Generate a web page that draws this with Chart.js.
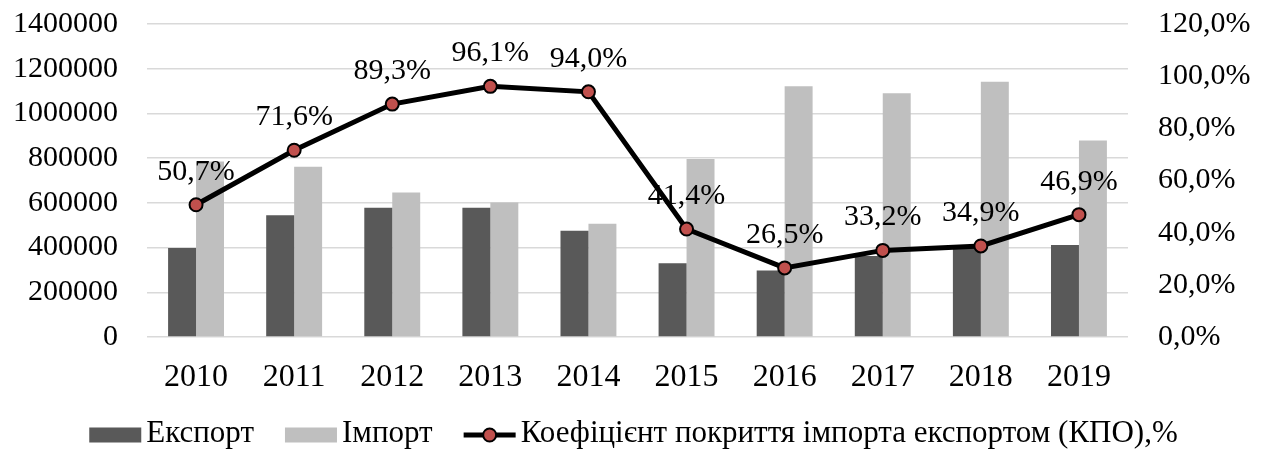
<!DOCTYPE html>
<html>
<head>
<meta charset="utf-8">
<script src="https://cdn.jsdelivr.net/npm/chart.js@4/dist/chart.umd.min.js"></script>
<style>
    body { margin: 0; background: #fff; }
</style>
</head>
<body>
<canvas id="kpo-chart" width="1267" height="452"></canvas>
<script>
var roky = ['2010', '2011', '2012', '2013', '2014', '2015', '2016', '2017', '2018', '2019'];
var eksport = [398000, 545000, 578000, 578000, 475000, 330000, 297000, 362000, 398000, 412000];
var import_ = [785000, 762000, 646000, 602000, 506000, 796000, 1122000, 1090000, 1142000, 879000];
var kpo = [50.7, 71.6, 89.3, 96.1, 94.0, 41.4, 26.5, 33.2, 34.9, 46.9];

var shryft = '"Liberation Serif", "Times New Roman", serif';

function vidsotok(v) {
    return v.toFixed(1).replace('.', ',') + '%';
}

// підписи над точками лінії
var pidpysy = {
    id: 'pidpysy',
    afterDatasetsDraw: function(chart) {
        var ctx = chart.ctx;
        var meta = chart.getDatasetMeta(2);
        ctx.save();
        ctx.font = '30px ' + shryft;
        ctx.fillStyle = '#000';
        ctx.textAlign = 'center';
        ctx.textBaseline = 'alphabetic';
        meta.data.forEach(function(pt, i) {
            ctx.fillText(vidsotok(kpo[i]), pt.x, pt.y - 25);
        });
        ctx.restore();
    }
};

// легенда внизу
var legenda = {
    id: 'legenda',
    afterDraw: function(chart) {
        var ctx = chart.ctx;
        var items = [
            { type: 'box', color: '#595959', text: 'Експорт' },
            { type: 'box', color: '#BFBFBF', text: 'Імпорт' },
            { type: 'line', text: 'Коефіцієнт покриття імпорта експортом (КПО),%' }
        ];
        var markW = 52, gap = 5, itemGap = 31;
        ctx.save();
        ctx.font = '31px ' + shryft;
        var total = 0;
        items.forEach(function(it, i) {
            it.w = ctx.measureText(it.text).width;
            total += markW + gap + it.w + (i > 0 ? itemGap : 0);
        });
        var x = (chart.width - total) / 2;
        var cy = 435, base = 442;
        items.forEach(function(it) {
            if (it.type === 'box') {
                ctx.fillStyle = it.color;
                ctx.fillRect(x, cy - 7.5, markW, 15);
            } else {
                ctx.strokeStyle = '#000';
                ctx.lineWidth = 5;
                ctx.beginPath();
                ctx.moveTo(x, cy);
                ctx.lineTo(x + markW, cy);
                ctx.stroke();
                ctx.beginPath();
                ctx.arc(x + markW / 2, cy, 6.5, 0, Math.PI * 2);
                ctx.fillStyle = '#C0504D';
                ctx.fill();
                ctx.lineWidth = 2;
                ctx.stroke();
            }
            ctx.fillStyle = '#000';
            ctx.textAlign = 'left';
            ctx.textBaseline = 'alphabetic';
            ctx.fillText(it.text, x + markW + gap, base);
            x += markW + gap + it.w + itemGap;
        });
        ctx.restore();
    }
};

var ctx = document.getElementById('kpo-chart');

var kpoChart = new Chart(ctx, {
    type: 'bar',
    data: {
        labels: roky,
        datasets: [{
            label: 'Експорт',
            data: eksport,
            backgroundColor: '#595959',
            borderWidth: 0,
            order: 1,
            yAxisID: 'y'
        }, {
            label: 'Імпорт',
            data: import_,
            backgroundColor: '#BFBFBF',
            borderWidth: 0,
            order: 1,
            yAxisID: 'y'
        }, {
            type: 'line',
            label: 'Коефіцієнт покриття імпорта експортом (КПО),%',
            data: kpo,
            borderColor: '#000',
            borderWidth: 5,
            tension: 0,
            pointRadius: 6.5,
            pointBackgroundColor: '#C0504D',
            pointBorderColor: '#000',
            pointBorderWidth: 2,
            order: 0,
            yAxisID: 'y1'
        }]
    },
    options: {
        responsive: false,
        animation: false,
        categoryPercentage: 0.57,
        barPercentage: 1.0,
        layout: {
            padding: { top: 24, bottom: 55 }
        },
        plugins: {
            legend: { display: false },
            tooltip: { enabled: false }
        },
        scales: {
            x: {
                grid: { display: false },
                border: { display: false },
                ticks: {
                    color: '#000',
                    font: { family: shryft, size: 32 },
                    padding: 13
                },
                afterFit: function(scale) {
                    scale.height = 60;
                    scale.paddingLeft = 0;
                    scale.paddingRight = 0;
                }
            },
            y: {
                position: 'left',
                min: 0,
                max: 1400000,
                grid: { color: '#D9D9D9', lineWidth: 1.5, drawTicks: false },
                border: { display: false },
                ticks: {
                    stepSize: 200000,
                    color: '#000',
                    padding: 29,
                    font: { family: shryft, size: 30 },
                    callback: function(value) { return String(value); }
                },
                afterFit: function(scale) {
                    scale.width = 147;
                    scale.paddingTop = 0;
                    scale.paddingBottom = 0;
                }
            },
            y1: {
                position: 'right',
                min: 0,
                max: 120,
                grid: { display: false, drawTicks: false },
                border: { display: false },
                ticks: {
                    stepSize: 20,
                    color: '#000',
                    padding: 30,
                    font: { family: shryft, size: 30 },
                    callback: function(value) { return vidsotok(value); }
                },
                afterFit: function(scale) {
                    scale.width = 139;
                    scale.paddingTop = 0;
                    scale.paddingBottom = 0;
                }
            }
        }
    },
    plugins: [pidpysy, legenda]
});
</script>
</body>
</html>
